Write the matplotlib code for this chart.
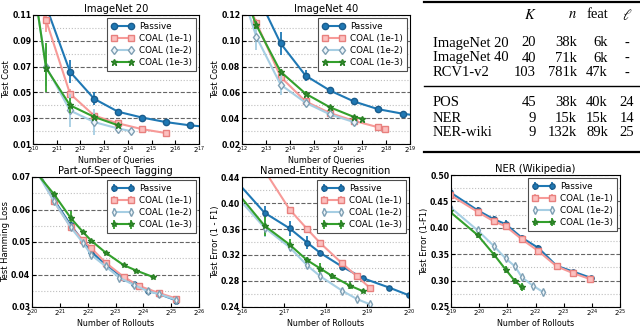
import numpy as np
import matplotlib.pyplot as plt
from matplotlib.lines import Line2D

# ---- data (x values given as log2 of the count) ----
# ImageNet 20
in20_pas_x = [9.55, 10.55, 11.56, 12.58, 13.59, 14.6, 15.6, 16.6, 17.6]
in20_pas_y = [0.17, 0.117, 0.066, 0.045, 0.035, 0.0305, 0.027, 0.0245, 0.0228]
in20_pas_e = [0.0, 0.0, 0.009, 0.005, 0.002, 0.001, 0.001, 0.001, 0.0]
in20_c1_x = [9.55, 10.55, 11.56, 12.58, 13.59, 14.6, 15.6]
in20_c1_y = [0.146, 0.106, 0.049, 0.032, 0.026, 0.0215, 0.0185]
in20_c1_e = [0.0, 0.009, 0.004, 0.002, 0.002, 0.001, 0.001]
in20_c2_x = [9.55, 10.55, 11.56, 12.58, 13.59, 14.13]
in20_c2_y = [0.19, 0.070, 0.036, 0.027, 0.022, 0.020]
in20_c2_e = [0.0, 0.015, 0.013, 0.010, 0.003, 0.002]
in20_c3_x = [9.55, 10.55, 11.56, 12.58, 13.59]
in20_c3_y = [0.193, 0.069, 0.040, 0.031, 0.0245]
in20_c3_e = [0.0, 0.019, 0.006, 0.002, 0.002]

# ImageNet 40
in40_pas_x = [12.6, 13.61, 14.65, 15.66, 16.66, 17.67, 18.69, 19.7]
in40_pas_y = [0.137, 0.098, 0.073, 0.0615, 0.053, 0.047, 0.0435, 0.041]
in40_pas_e = [0.0, 0.009, 0.004, 0.002, 0.002, 0.001, 0.001, 0.0]
in40_c1_x = [11.6, 12.6, 13.61, 14.65, 15.66, 16.66, 17.67, 17.95]
in40_c1_y = [0.157, 0.114, 0.072, 0.053, 0.044, 0.038, 0.033, 0.0315]
in40_c1_e = [0.0, 0.003, 0.003, 0.002, 0.002, 0.001, 0.001, 0.001]
in40_c2_x = [11.6, 12.6, 13.61, 14.65, 15.66, 16.66]
in40_c2_y = [0.16, 0.103, 0.066, 0.052, 0.043, 0.037]
in40_c2_e = [0.0, 0.010, 0.008, 0.003, 0.002, 0.002]
in40_c3_x = [11.6, 12.6, 13.61, 14.65, 15.66, 16.66, 17.02]
in40_c3_y = [0.16, 0.112, 0.076, 0.059, 0.0485, 0.041, 0.0395]
in40_c3_e = [0.0, 0.003, 0.002, 0.002, 0.001, 0.001, 0.001]

# Part-of-Speech Tagging
pos_pas_x = [19.8, 20.79, 21.39, 21.83, 22.13, 22.65, 23.29, 23.66, 24.17, 24.56, 25.19]
pos_pas_y = [0.078, 0.063, 0.0552, 0.0503, 0.047, 0.043, 0.039, 0.0372, 0.035, 0.034, 0.032]
pos_pas_e = [0.0, 0.0008, 0.0008, 0.0007, 0.0006, 0.0005, 0.0005, 0.0005, 0.0004, 0.0004, 0.0004]
pos_c1_x = [19.8, 20.79, 21.39, 21.83, 22.13, 22.65, 23.29, 23.84, 24.56, 25.19]
pos_c1_y = [0.078, 0.0625, 0.0546, 0.0506, 0.0481, 0.0436, 0.0393, 0.0365, 0.0343, 0.0326]
pos_c1_e = [0.0, 0.0008, 0.0008, 0.0007, 0.0006, 0.0005, 0.0005, 0.0005, 0.0004, 0.0004]
pos_c2_x = [19.8, 20.79, 21.39, 21.83, 22.13, 22.65, 23.14, 23.66, 24.17, 24.56, 25.19]
pos_c2_y = [0.077, 0.0625, 0.0545, 0.0498, 0.046, 0.0425, 0.039, 0.0368, 0.0348, 0.034, 0.0322]
pos_c2_e = [0.0, 0.0008, 0.0008, 0.0007, 0.0008, 0.0006, 0.0005, 0.0005, 0.0005, 0.0004, 0.0004]
pos_c3_x = [19.8, 20.79, 21.39, 21.83, 22.13, 22.65, 23.29, 23.75, 24.33]
pos_c3_y = [0.075, 0.0647, 0.0574, 0.0531, 0.0504, 0.0467, 0.0429, 0.0412, 0.0393]
pos_c3_e = [0.0, 0.0008, 0.0020, 0.0006, 0.0005, 0.0005, 0.0004, 0.0004, 0.0004]

# Named-Entity Recognition
ner_pas_x = [15.54, 16.54, 17.14, 17.56, 17.88, 18.4, 18.91, 19.52, 20.0]
ner_pas_y = [0.457, 0.385, 0.361, 0.339, 0.323, 0.302, 0.284, 0.270, 0.258]
ner_pas_e = [0.0, 0.010, 0.012, 0.010, 0.004, 0.004, 0.004, 0.002, 0.002]
ner_c1_x = [16.54, 17.14, 17.56, 17.88, 18.4, 18.76, 19.07]
ner_c1_y = [0.45, 0.390, 0.360, 0.338, 0.307, 0.287, 0.269]
ner_c1_e = [0.0, 0.004, 0.004, 0.004, 0.004, 0.003, 0.003]
ner_c2_x = [15.54, 16.54, 17.14, 17.56, 17.88, 18.4, 18.76, 19.07]
ner_c2_y = [0.434, 0.362, 0.332, 0.304, 0.287, 0.265, 0.252, 0.244]
ner_c2_e = [0.0, 0.015, 0.006, 0.005, 0.004, 0.004, 0.004, 0.003]
ner_c3_x = [15.54, 16.54, 17.14, 17.56, 17.88, 18.15, 18.58, 18.91]
ner_c3_y = [0.443, 0.365, 0.336, 0.312, 0.299, 0.288, 0.273, 0.264]
ner_c3_e = [0.0, 0.015, 0.008, 0.005, 0.008, 0.005, 0.006, 0.003]

# NER (Wikipedia)
wiki_pas_x = [18.95, 19.95, 20.53, 20.94, 21.52, 22.1, 22.75, 23.34, 23.98]
wiki_pas_y = [0.468, 0.433, 0.416, 0.407, 0.381, 0.362, 0.328, 0.317, 0.305]
wiki_pas_e = [0.0, 0.006, 0.006, 0.008, 0.006, 0.005, 0.004, 0.004, 0.003]
wiki_c1_x = [18.95, 19.95, 20.53, 20.94, 21.52, 22.1, 22.75, 23.34, 23.93]
wiki_c1_y = [0.463, 0.430, 0.412, 0.403, 0.378, 0.356, 0.327, 0.314, 0.303]
wiki_c1_e = [0.0, 0.008, 0.007, 0.006, 0.006, 0.005, 0.004, 0.004, 0.003]
wiki_c2_x = [18.95, 19.95, 20.53, 20.94, 21.27, 21.52, 21.92, 22.28]
wiki_c2_y = [0.440, 0.395, 0.365, 0.342, 0.327, 0.306, 0.290, 0.278]
wiki_c2_e = [0.0, 0.004, 0.004, 0.004, 0.004, 0.004, 0.004, 0.004]
wiki_c3_x = [18.95, 19.95, 20.53, 20.94, 21.27, 21.52]
wiki_c3_y = [0.431, 0.386, 0.349, 0.321, 0.299, 0.288]
wiki_c3_e = [0.0, 0.006, 0.006, 0.007, 0.006, 0.007]

labels = ['Passive', 'COAL (1e-1)', 'COAL (1e-2)', 'COAL (1e-3)']

# table
tab_names = ['ImageNet 20', 'ImageNet 40', 'RCV1-v2', 'POS', 'NER', 'NER-wiki']
tab_K = ['20', '40', '103', '45', '9', '9']
tab_n = ['38k', '71k', '781k', '38k', '15k', '132k']
tab_feat = ['6k', '6k', '47k', '40k', '15k', '89k']
tab_ell = ['-', '-', '-', '24', '14', '25']

# ---- styles ----
styles = [
    dict(color='#1f78b4', marker='o', mfc='#1f78b4', mec='#1a5c8c'),
    dict(color='#f79a98', marker='s', mfc='#fcc0bf', mec='#e8807e'),
    dict(color='#a6cee3', marker='d', mfc='#eef5fa', mec='#7f9fb3'),
    dict(color='#33a02c', marker='*', mfc='#33a02c', mec='#2a7f25'),
]

W, H = 640, 327
fig = plt.figure(figsize=(6.4, 3.27), dpi=100)


def px_axes(l, r, t, b):
    return fig.add_axes([l / W, 1 - b / H, (r - l) / W, (b - t) / H])


def panel(ax, series, xr, yr, ystep, title, xlabel, ylabel, err_legend, ms):
    for (xe, y, e), st, lab in zip(series, styles, labels):
        x = 2.0 ** np.asarray(xe)
        y = np.asarray(y)
        e = np.asarray(e)
        if err_legend:
            ax.errorbar(x, y, yerr=e, color=st['color'], marker=st['marker'],
                        mfc=st['mfc'], mec=st['mec'], ms=ms, lw=1.5,
                        elinewidth=1.3, capsize=0, label=lab)
        else:
            ax.errorbar(x, y, yerr=e, fmt='none', ecolor=st['color'],
                        elinewidth=1.3, capsize=0)
            ax.plot(x, y, color=st['color'], marker=st['marker'],
                    mfc=st['mfc'], mec=st['mec'], ms=ms, lw=1.5, label=lab)
    ax.set_xscale('log', base=2)
    ax.set_xlim(2.0 ** xr[0], 2.0 ** xr[1])
    ax.set_xticks([2.0 ** k for k in range(xr[0], xr[1] + 1)])
    ax.set_xticklabels([r'$2^{%d}$' % k for k in range(xr[0], xr[1] + 1)])
    ax.xaxis.set_minor_locator(plt.NullLocator())
    ax.set_ylim(yr)
    yt = np.arange(yr[0], yr[1] + ystep / 2, ystep)
    ax.set_yticks(yt)
    ax.set_yticklabels(['%.2f' % v for v in yt], fontweight='bold')
    ax.set_yticks(yt[:-1] + ystep / 2, minor=True)
    ax.yaxis.grid(True, which='major', ls='--', color='0.4', lw=0.8)
    ax.yaxis.grid(True, which='minor', ls=':', color='0.75', lw=0.8)
    ax.tick_params(which='minor', length=0)
    ax.tick_params(axis='y', labelsize=5.6, pad=1.2, length=3, direction='in')
    ax.tick_params(axis='x', labelsize=5.0, pad=0.3, length=3, direction='in')
    ax.set_axisbelow(True)
    ax.set_title(title, fontsize=7.2, pad=2)
    ax.set_xlabel(xlabel, fontsize=5.8, labelpad=0)
    ax.set_ylabel(ylabel, fontsize=6.0, labelpad=1)
    leg = ax.legend(loc='upper right', fontsize=6.3, fancybox=False,
                    edgecolor='0.3', framealpha=1, handlelength=2.6,
                    borderaxespad=0.35, labelspacing=0.35, numpoints=2,
                    handletextpad=0.6, borderpad=0.45)
    leg.get_frame().set_linewidth(0.8)


ax1 = px_axes(33, 199, 15, 144)
panel(ax1, [(in20_pas_x, in20_pas_y, in20_pas_e), (in20_c1_x, in20_c1_y, in20_c1_e),
            (in20_c2_x, in20_c2_y, in20_c2_e), (in20_c3_x, in20_c3_y, in20_c3_e)],
      (10, 17), (0.01, 0.11), 0.02, 'ImageNet 20', 'Number of Queries', 'Test Cost',
      False, 4.5)

ax2 = px_axes(242, 410, 15, 144)
panel(ax2, [(in40_pas_x, in40_pas_y, in40_pas_e), (in40_c1_x, in40_c1_y, in40_c1_e),
            (in40_c2_x, in40_c2_y, in40_c2_e), (in40_c3_x, in40_c3_y, in40_c3_e)],
      (12, 19), (0.02, 0.12), 0.02, 'ImageNet 40', 'Number of Queries', 'Test Cost',
      False, 4.5)

ax4 = px_axes(32, 199, 177, 307)
panel(ax4, [(pos_pas_x, pos_pas_y, pos_pas_e), (pos_c1_x, pos_c1_y, pos_c1_e),
            (pos_c2_x, pos_c2_y, pos_c2_e), (pos_c3_x, pos_c3_y, pos_c3_e)],
      (20, 26), (0.03, 0.07), 0.01, 'Part-of-Speech Tagging', 'Number of Rollouts',
      'Test Hamming Loss', True, 3.8)

ax5 = px_axes(242, 409, 177, 307)
panel(ax5, [(ner_pas_x, ner_pas_y, ner_pas_e), (ner_c1_x, ner_c1_y, ner_c1_e),
            (ner_c2_x, ner_c2_y, ner_c2_e), (ner_c3_x, ner_c3_y, ner_c3_e)],
      (16, 20), (0.24, 0.44), 0.04, 'Named-Entity Recognition', 'Number of Rollouts',
      'Test Error (1 - F1)', True, 3.8)

ax6 = px_axes(451, 620, 175, 307)
panel(ax6, [(wiki_pas_x, wiki_pas_y, wiki_pas_e), (wiki_c1_x, wiki_c1_y, wiki_c1_e),
            (wiki_c2_x, wiki_c2_y, wiki_c2_e), (wiki_c3_x, wiki_c3_y, wiki_c3_e)],
      (19, 25), (0.25, 0.50), 0.05, 'NER (Wikipedia)', 'Number of Rollouts',
      'Test Error (1-F1)', True, 3.8)

# ---- table (pixel coordinates) ----
tab = fig.add_axes([0, 0, 1, 1], zorder=-1)
tab.set_xlim(0, W)
tab.set_ylim(H, 0)
tab.axis('off')
tfont = dict(family='Liberation Serif', fontsize=10.5, va='center')
row_y = [43, 58, 73, 103, 118, 133]
tab.text(537, 15, r'$K$', ha='right', math_fontfamily='stix', **tfont)
tab.text(577, 15, r'$n$', ha='right', math_fontfamily='stix', **tfont)
tab.text(608, 15, 'feat', ha='right', **tfont)
tab.text(627, 15, r'$\ell$', ha='center', math_fontfamily='stix', **tfont)
for y, nm, k, n, f, l in zip(row_y, tab_names, tab_K, tab_n, tab_feat, tab_ell):
    tab.text(433, y, nm, ha='left', **tfont)
    tab.text(536, y, k, ha='right', **tfont)
    tab.text(577, y, n, ha='right', **tfont)
    tab.text(608, y, f, ha='right', **tfont)
    tab.text(627, y, l, ha='center', **tfont)
for y, lw in [(2, 1.6), (86, 1.0), (152, 1.6)]:
    tab.add_line(Line2D([424, 640], [y, y], color='k', lw=lw))

fig.savefig('out.png', dpi=100)
